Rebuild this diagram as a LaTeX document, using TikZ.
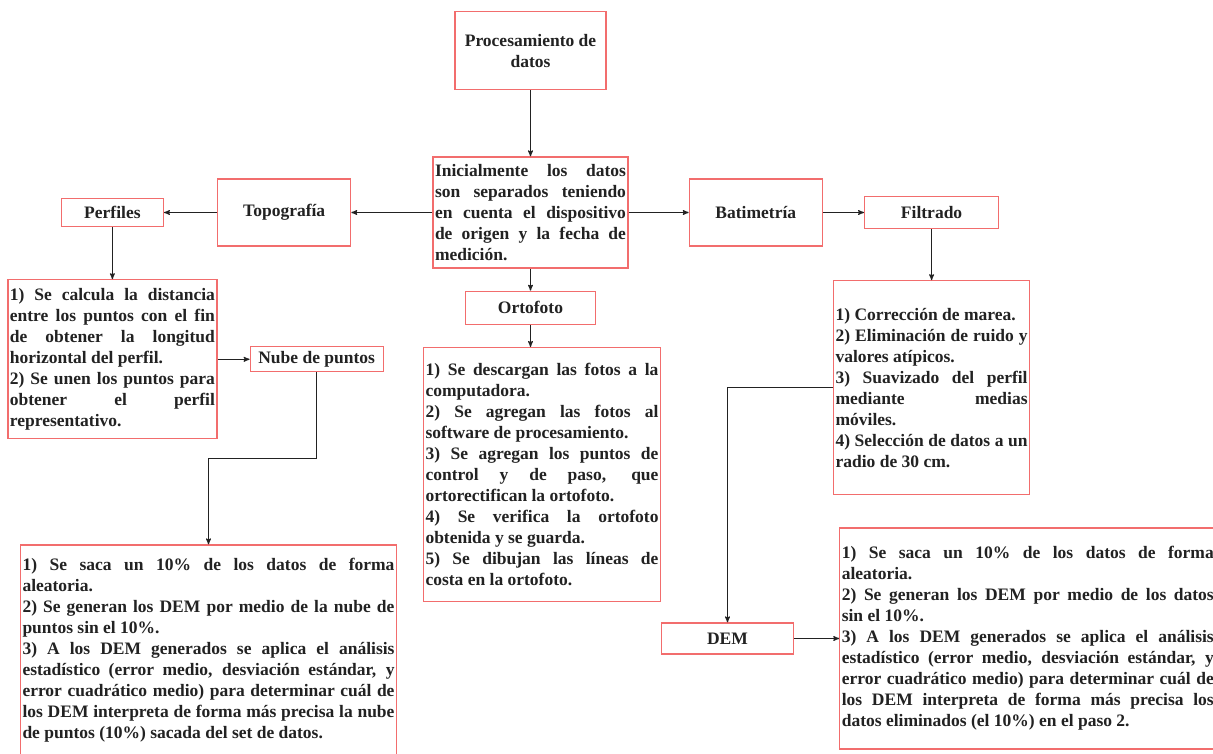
\documentclass[tikz,border=0pt]{standalone}
\usepackage{fontspec}
\setmainfont{Liberation Serif}
\usetikzlibrary{arrows,positioning}
\definecolor{boxred}{HTML}{F26D6D}
\definecolor{inkgray}{HTML}{222222}

\begin{document}
\begin{tikzpicture}[x=1pt,y=-1pt,->,>=stealth',
  line width=1.1pt,draw=inkgray,
  main node/.style={rectangle,draw=boxred,line width=1.3pt,fill=white,text=inkgray,
    font=\fontsize{17.5}{21}\selectfont\bfseries,inner sep=2pt,align=center},
  step node/.style={main node,align=justify}]

 \useasboundingbox (0,0) rectangle (1213,754);

 \node[step node,text width=191pt,minimum height=111pt] (init) at (530.5,212.5)
   {Inicialmente los datos\linebreak son separados teniendo\linebreak en cuenta el dispositivo\linebreak de origen y la fecha de\linebreak medición.};
 \node[main node,minimum width=151pt,minimum height=78pt] (proc) [above=66pt of init] {Procesamiento de\\datos};
 \node[main node,minimum width=133pt,minimum height=67pt] (topo) [left=81pt of init] {Topografía};
 \node[main node,minimum width=102pt,minimum height=28pt] (perf) [left=53pt of topo] {Perfiles};
 \node[main node,minimum width=133pt,minimum height=67pt] (bati) [right=60pt of init] {Batimetría};
 \node[main node,minimum width=134pt,minimum height=32pt] (filt) [right=41pt of bati] {Filtrado};
 \node[main node,minimum width=130pt,minimum height=33pt] (orto) [below=22pt of init] {Ortofoto};

 \node[step node,text width=233pt,minimum height=254pt] (ortosteps) [below=22pt of orto,xshift=11.5pt]
   {1) Se descargan las fotos a la\linebreak computadora.\\
    2) Se agregan las fotos al\linebreak software de procesamiento.\\
    3) Se agregan los puntos de\linebreak control y de paso, que\linebreak ortorectifican la ortofoto.\\
    4) Se verifica la ortofoto\linebreak obtenida y se guarda.\\
    5) Se dibujan las líneas de\linebreak costa en la ortofoto.};
 \node[step node,text width=205pt,minimum height=159pt] (perfsteps) [below=52pt of perf]
   {1) Se calcula la distancia\linebreak entre los puntos con el fin\linebreak de obtener la longitud\linebreak horizontal del perfil.\\
    2) Se unen los puntos para\linebreak obtener el perfil\linebreak representativo.};
 \node[main node,minimum width=133pt,minimum height=25pt] (nube) [right=32pt of perfsteps] {Nube de puntos};
 \node[step node,text width=372pt,minimum height=211pt] (topodem) at (208.5,650.5)
   {1) Se saca un 10\% de los datos de forma\linebreak aleatoria.\\
    2) Se generan los DEM por medio de la nube de\linebreak puntos sin el 10\%.\\
    3) A los DEM generados se aplica el análisis\linebreak estadístico (error medio, desviación estándar, y\linebreak error cuadrático medio) para determinar cuál de\linebreak los DEM interpreta de forma más precisa la nube\linebreak de puntos (10\%) sacada del set de datos.};
 \node[step node,text width=192pt,minimum height=214pt] (filtsteps) [below=51pt of filt]
   {1) Corrección de marea.\\
    2) Eliminación de ruido y\linebreak valores atípicos.\\
    3) Suavizado del perfil\linebreak mediante medias\linebreak móviles.\\
    4) Selección de datos a un\linebreak radio de 30 cm.};
 \node[main node,minimum width=132pt,minimum height=31pt] (dem) at (727.5,638.5) {DEM};
 \node[step node,text width=372pt,minimum height=221pt] (batdem) [right=45pt of dem]
   {1) Se saca un 10\% de los datos de forma\linebreak aleatoria.\\
    2) Se generan los DEM por medio de los datos\linebreak sin el 10\%.\\
    3) A los DEM generados se aplica el análisis\linebreak estadístico (error medio, desviación estándar, y\linebreak error cuadrático medio) para determinar cuál de\linebreak los DEM interpreta de forma más precisa los\linebreak datos eliminados (el 10\%) en el paso 2.};

 \path
    (proc)  edge (init)
    (init)  edge (topo)
    (topo)  edge (perf)
    (init)  edge (bati)
    (bati)  edge (filt)
    (init)  edge (orto)
    (orto)  edge (orto.south |- ortosteps.north)
    (perf)  edge (perf.south |- perfsteps.north)
    (perfsteps) edge (nube)
    (filt)  edge (filtsteps)
    (dem)   edge (batdem);

 \draw (nube.south) -- ++(0,86) -| (topodem.north);
 \draw (filtsteps.west) -| (dem.north);

\end{tikzpicture}
\end{document}
